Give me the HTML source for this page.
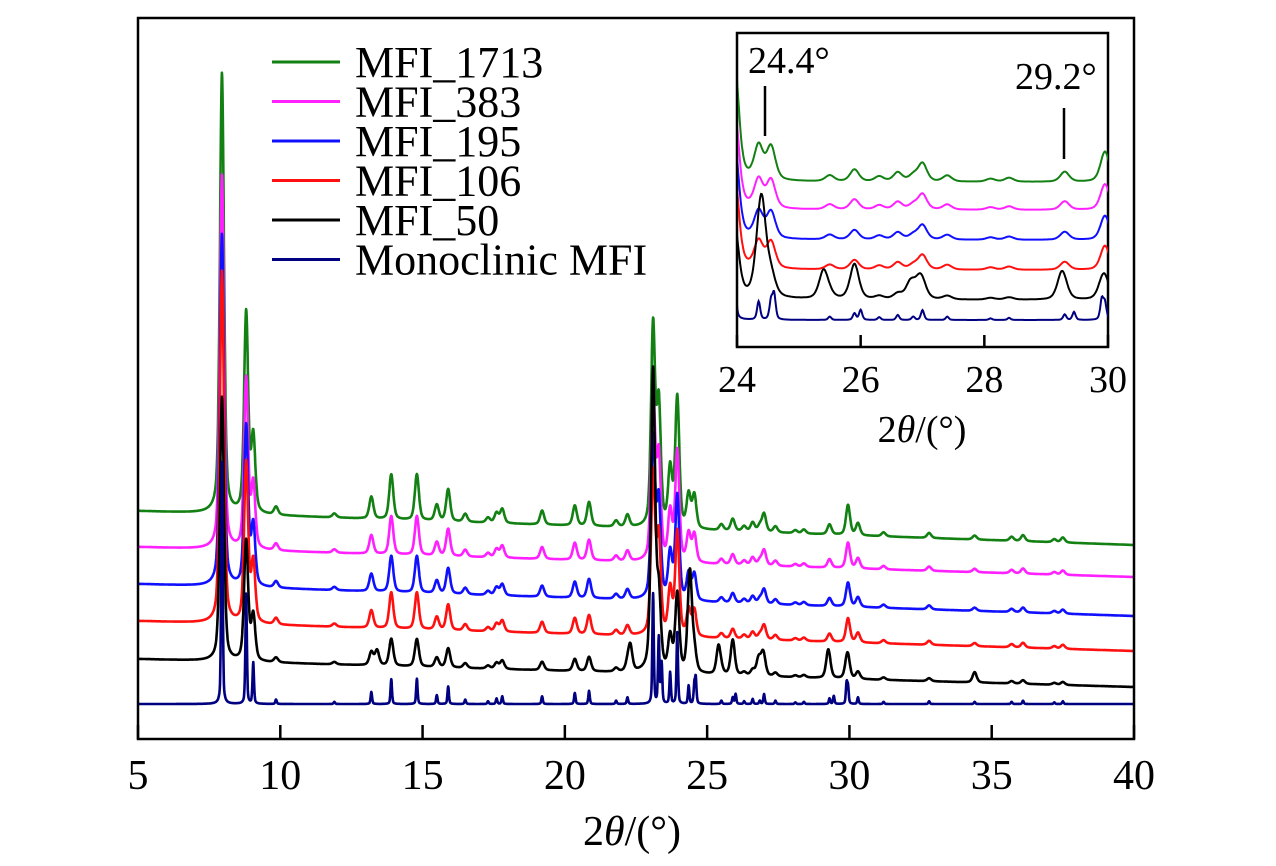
<!DOCTYPE html>
<html><head><meta charset="utf-8"><style>
body{margin:0;background:#fff}
svg{display:block;font-family:"Liberation Serif",serif}
</style></head><body>
<svg id="c" width="1276" height="866" viewBox="0 0 1276 866">
<defs>
<clipPath id="mainclip"><rect x="139" y="19" width="995" height="720"/></clipPath>
<clipPath id="insclip"><rect x="738" y="34" width="370" height="312"/></clipPath>
</defs>
<g id="mainCurves" clip-path="url(#mainclip)"></g>
<rect x="138" y="18" width="996" height="721" fill="none" stroke="#000" stroke-width="2.5"/>
<g id="mainTicks"></g>
<text x="632" y="845" font-size="42" text-anchor="middle">2<tspan font-style="italic">θ</tspan>/(°)</text>
<g id="legend"></g>
<rect x="737" y="33" width="371" height="314" fill="#fff" stroke="#000" stroke-width="2.5"/>
<g id="insCurves" clip-path="url(#insclip)"></g>
<g id="insTicks"></g>
<text x="922" y="442" font-size="38" text-anchor="middle">2<tspan font-style="italic">θ</tspan>/(°)</text>
<text x="748" y="73" font-size="38">24.4°</text>
<line x1="765" y1="86" x2="765" y2="136" stroke="#000" stroke-width="2.5"/>
<text x="1015" y="89" font-size="38">29.2°</text>
<line x1="1064" y1="108" x2="1064" y2="159" stroke="#000" stroke-width="2.5"/>
</svg>
<script>
// shared MFI reflections: positions (deg) and heights
const peakPos = [7.95,8.8,9.05,9.85,11.9,13.2,13.9,14.8,15.5,15.9,16.5,17.3,17.6,17.8,19.2,20.35,20.85,21.8,22.2,23.1,23.3,23.7,23.95,24.35,24.55,25.5,25.9,26.3,26.6,26.85,27.0,27.4,28.1,28.4,29.3,29.95,30.3,31.2,32.8,34.4,35.7,36.1,37.2,37.5];
const peakH   = [440,200,75,8,4,22,45,46,16,32,8,5,10,14,14,20,24,6,12,200,120,57,130,33,33,6,12,5,9,6,18,6,3,4,10,30,12,4,5,4,4,6,3,5];
const seriesNames  = ["MFI_1713","MFI_383","MFI_195","MFI_106","MFI_50","Monoclinic MFI"];
const seriesColors = ["#138013","#ff20ff","#1010ff","#ff1010","#000000","#000080"];
const baseStart = [228,192,155,118,80,35];
const baseEnd   = [194,162,123,88,52,35];
const seriesScale = [1.0,0.85,0.8,0.8,0.6,0.55];
const seriesWidth = [0.085,0.085,0.085,0.085,0.085,0.03];
const extraPos = [[],[],[],[],[13.4,22.3,23.1,24.4,25.4,25.9,26.8,26.95,29.25,29.9,34.4],[23.4,24.6,26.0,29.45,29.9]];
const extraH   = [[],[],[],[],[15,25,180,85,28,28,14,14,24,10,8],[40,25,10,8,20]];
const insetBase = [182,210,240,270,300,320];
const mainTicks = [5,10,15,20,25,30,35,40];
const insetTicks = [24,26,28,30];

const NS="http://www.w3.org/2000/svg";
const mx=v=>138+(v-5)*(996/35);
const my=v=>739-v;
const ix=v=>737+(v-24)*(371/6);
function prof(d,w){const r=d/w;return 0.45/(1+r*r)+0.55*Math.exp(-0.693*r*r);}
function intensity(s,x){
  let w=seriesWidth[s],sum=0;
  for(let i=0;i<peakPos.length;i++){sum+=peakH[i]*seriesScale[s]*prof(x-peakPos[i],w);}
  for(let i=0;i<extraPos[s].length;i++){sum+=extraH[s][i]*prof(x-extraPos[s][i],w);}
  return sum;
}
const mc=document.getElementById('mainCurves'),ic=document.getElementById('insCurves');
for(let s=0;s<seriesNames.length;s++){
  let d="",di="";
  for(let x=5;x<=40.001;x+=0.01){
    const b=baseStart[s]+(baseEnd[s]-baseStart[s])*(x-5)/35;
    const v=intensity(s,x);
    d+=(d?"L":"M")+mx(x).toFixed(1)+","+my(b+v).toFixed(1);
    if(x>=23.9&&x<=30.1) di+=(di?"L":"M")+ix(x).toFixed(1)+","+(insetBase[s]-v).toFixed(1);
  }
  const p=document.createElementNS(NS,'path');
  p.setAttribute('d',d);p.setAttribute('fill','none');p.setAttribute('stroke',seriesColors[s]);p.setAttribute('stroke-width','2.6');
  p.setAttribute('stroke-linejoin','round');
  
  
  mc.appendChild(p);
  const q=document.createElementNS(NS,'path');
  q.setAttribute('d',di);q.setAttribute('fill','none');q.setAttribute('stroke',seriesColors[s]);q.setAttribute('stroke-width','2');
  
  
  ic.appendChild(q);
  const lg=document.getElementById('legend'),y=62+s*39.5;
  const l=document.createElementNS(NS,'line');
  l.setAttribute('x1',272);l.setAttribute('x2',340);l.setAttribute('y1',y);l.setAttribute('y2',y);
  l.setAttribute('stroke',seriesColors[s]);l.setAttribute('stroke-width','3');
  
  
  lg.appendChild(l);
  const t=document.createElementNS(NS,'text');
  t.setAttribute('x',355);t.setAttribute('y',y+15);t.setAttribute('font-size','44');t.textContent=seriesNames[s];
  
  
  lg.appendChild(t);
}
const mt=document.getElementById('mainTicks');
mainTicks.forEach(v=>{
  const l=document.createElementNS(NS,'line');
  l.setAttribute('x1',mx(v));l.setAttribute('x2',mx(v));l.setAttribute('y1',725);l.setAttribute('y2',739);
  l.setAttribute('stroke','#000');l.setAttribute('stroke-width','2.5');
  
  
  mt.appendChild(l);
  const t=document.createElementNS(NS,'text');
  t.setAttribute('x',mx(v));t.setAttribute('y',789);t.setAttribute('font-size','42');t.setAttribute('text-anchor','middle');t.textContent=v;
  
  
  mt.appendChild(t);
});
const it=document.getElementById('insTicks');
insetTicks.forEach(v=>{
  const l=document.createElementNS(NS,'line');
  l.setAttribute('x1',ix(v));l.setAttribute('x2',ix(v));l.setAttribute('y1',335);l.setAttribute('y2',347);
  l.setAttribute('stroke','#000');l.setAttribute('stroke-width','2.5');
  
  
  it.appendChild(l);
  const t=document.createElementNS(NS,'text');
  t.setAttribute('x',ix(v));t.setAttribute('y',392);t.setAttribute('font-size','38');t.setAttribute('text-anchor','middle');t.textContent=v;
  
  
  it.appendChild(t);
});
</script>
</body></html>
